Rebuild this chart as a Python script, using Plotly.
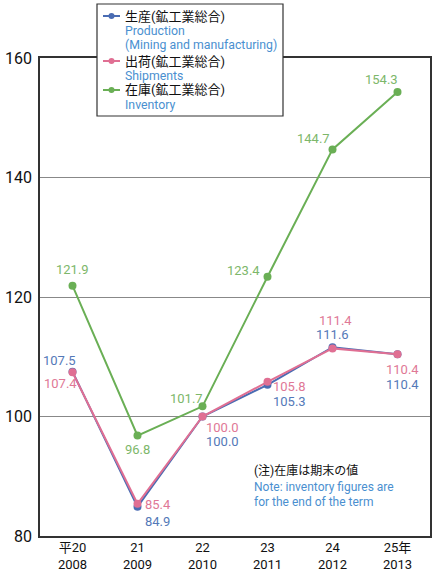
import plotly.graph_objects as go

years_jp = ["平20", "21", "22", "23", "24", "25年"]
years_en = ["2008", "2009", "2010", "2011", "2012", "2013"]
production = [107.5, 84.9, 100.0, 105.3, 111.6, 110.4]
shipments = [107.4, 85.4, 100.0, 105.8, 111.4, 110.4]
inventory = [121.9, 96.8, 101.7, 123.4, 144.7, 154.3]

legend_jp = ["生産(鉱工業総合)", "出荷(鉱工業総合)", "在庫(鉱工業総合)"]
legend_en = [["Production", "(Mining and manufacturing)"], ["Shipments"], ["Inventory"]]

x = list(range(len(years_en)))
ticktext = [f"{a}<br>{b}" for a, b in zip(years_jp, years_en)]

BLUE = "#4a6cb3"
PINK = "#e06f93"
GREEN = "#6aaf55"
BLUE_T = "#5479b8"
PINK_T = "#e07896"
GREEN_T = "#7db76a"
EN = "#4a8fd0"
FONT = "Roboto, Noto Sans CJK JP, sans-serif"

W, H = 436, 573
ML, MR, MT, MB = 40, 6, 58, 37
PW, PH = W - ML - MR, H - MT - MB

def px(xp):
    return (xp - ML) / PW

def py(yp):
    return (H - MB - yp) / PH

fig = go.Figure()
for vals, col in [(inventory, GREEN), (production, BLUE), (shipments, PINK)]:
    fig.add_trace(go.Scatter(x=x, y=vals, mode="lines+markers", showlegend=False, hoverinfo="skip",
                             line=dict(color=col, width=2), marker=dict(size=8, color=col)))

# label offsets (px)
off_inv = [(0, 16), (0, -14), (-16, 8), (-24, 6), (-19, 11), (-16, 13)]
off_prod = [(-13, 11), (20, -15), (20, -25), (22, -17), (0, 13), (5, -30)]
off_ship = [(-12, -11), (20, -1), (20, -11), (22, -5), (3, 28), (5, -15)]

anns = []
for vals, offs, col in [(inventory, off_inv, GREEN_T), (production, off_prod, BLUE_T), (shipments, off_ship, PINK_T)]:
    for i, (v, (dx, dy)) in enumerate(zip(vals, offs)):
        anns.append(dict(x=i, y=v, xref="x", yref="y", text=f"{v:.1f}", showarrow=False,
                         xshift=dx, yshift=dy, font=dict(size=13, color=col, family=FONT)))

# note
anns.append(dict(x=px(253), y=py(462), xref="paper", yref="paper", xanchor="left", yanchor="top", align="left",
                 showarrow=False, borderpad=0,
                 text=f"(注)在庫は期末の値<br><span style='color:{EN}'>Note: inventory figures are</span><br><span style='color:{EN}'>for the end of the term</span>",
                 font=dict(size=12, color="#111", family=FONT)))

# custom legend
shapes = [dict(type="rect", xref="paper", yref="paper", x0=px(97), x1=px(283), y0=py(116), y1=py(4),
               line=dict(color="#333", width=1.2), fillcolor="white", layer="above")]
leg_y = [16, 61, 90]
for jp, ens, col, ly in zip(legend_jp, legend_en, [BLUE, PINK, GREEN], leg_y):
    shapes.append(dict(type="line", xref="paper", yref="paper", x0=px(103), x1=px(120), y0=py(ly), y1=py(ly),
                       line=dict(color=col, width=2), layer="above"))
    shapes.append(dict(type="circle", xref="paper", yref="paper", x0=px(108.5), x1=px(114.5), y0=py(ly + 3), y1=py(ly - 3),
                       line=dict(color=col, width=0), fillcolor=col, layer="above"))
    anns.append(dict(x=px(123), y=py(ly), xref="paper", yref="paper", xanchor="left", yanchor="middle",
                     showarrow=False, text=jp, font=dict(size=13, color="#111", family=FONT)))
    for k, e in enumerate(ens):
        anns.append(dict(x=px(123), y=py(ly + 15 + 13.5 * k), xref="paper", yref="paper", xanchor="left",
                         yanchor="middle", showarrow=False, text=e,
                         font=dict(size=12.3, color=EN, family=FONT)))

fig.update_layout(
    width=W, height=H,
    margin=dict(l=ML, r=MR, t=MT, b=MB, autoexpand=False),
    paper_bgcolor="white", plot_bgcolor="white",
    font=dict(family=FONT, color="#111"),
    showlegend=False,
    hovermode=False,
    annotations=anns,
    shapes=shapes,
    xaxis=dict(range=[-0.5, 5.5], tickmode="array", tickvals=x, ticktext=ticktext,
               showgrid=False, zeroline=False, showline=True, linecolor="#333", linewidth=1.5, mirror=True,
               tickfont=dict(size=13, color="#111"), ticks="", ticklabelstandoff=-1),
    yaxis=dict(range=[80, 160], tickvals=[80, 100, 120, 140, 160], showgrid=True, gridcolor="#888", gridwidth=1,
               zeroline=False, showline=True, linecolor="#333", linewidth=1.5, mirror=True,
               tickfont=dict(size=16, color="#111"), ticks="", ticklabelstandoff=3),
)

fig.write_html("out.html", config={"displayModeBar": False},
               post_script="document.body.style.margin='0';document.body.style.overflow='hidden';")
